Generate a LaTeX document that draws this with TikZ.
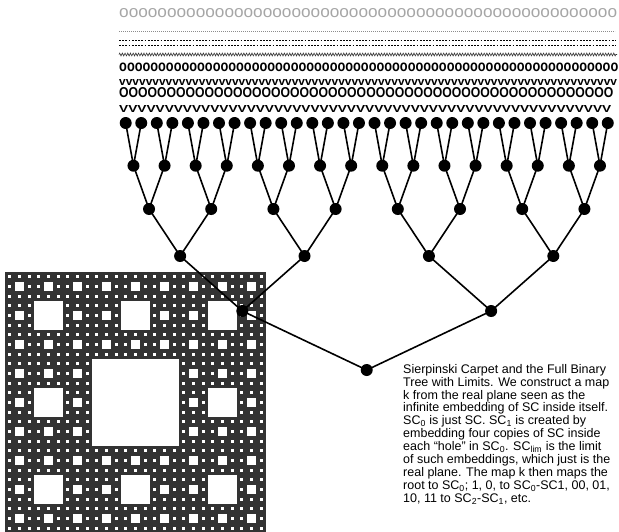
\documentclass[tikz,border=0pt]{standalone}
\usepackage{fontspec}
\setmainfont{Liberation Sans}
\usepackage{graphicx}
\usetikzlibrary{decorations.pathmorphing}

% a row of one glyph, repeated
\newcommand\glyphrow[2]{\foreach \i in {1,...,#1}{#2}}
% caption font, lines set solid
\newcommand\notefont{\fontsize{12.5}{12.9}\selectfont\lineskiplimit=-20pt\relax}
% holes of the carpet, in the unit square of the current scope
\newcommand\carpetholes[1]{%
  \fill[white] (1/3,1/3) rectangle (2/3,2/3);
  \ifnum#1>0
    \pgfmathtruncatemacro\nextdepth{#1-1}%
    \foreach \cx/\cy in {0/0,1/0,2/0,0/1,2/1,0/2,1/2,2/2}{%
      \begin{scope}[shift={(\cx/3,\cy/3)},scale=0.333333]
        \carpetholes{\nextdepth}
      \end{scope}}%
  \fi}

\begin{document}
\begin{tikzpicture}[x=1pt,y=-1pt,
  knot/.style={circle,fill=black,inner sep=0pt,minimum size=12pt},
  twig/.style={line width=1.6pt},
  glyphs/.style={anchor=west,inner sep=0pt}]
\useasboundingbox (0,0) rectangle (619,531);

% rows above the leaves
\node[glyphs,text=black!35] (row1) at (119,13.5) {\resizebox{498pt}{9pt}{\glyphrow{52}{o}}};
\draw[black!45,line width=0.5pt,dash pattern=on 0.8pt off 1.2pt] (119,31.7) -- (615,31.7);
\draw[line width=0.9pt,dash pattern=on 1.8pt off 1.4pt] (119,40) -- (616,40);
\draw[line width=0.9pt,dash pattern=on 1.8pt off 1.4pt] (119,45) -- (616,45);
\draw[black!80,line width=0.6pt,decorate,decoration={zigzag,segment length=2.7pt,amplitude=1.4pt}] (119,54.5) -- (617,54.5);
\node[glyphs] (row6) at (119,67.5) {\resizebox{499pt}{8.5pt}{\bfseries\glyphrow{64}{o}}};
\node[glyphs] (row7) at (119,82) {\resizebox{498pt}{6pt}{\bfseries\glyphrow{75}{v}}};
\node[glyphs] (row8) at (119,93) {\resizebox{494pt}{10pt}{\bfseries\glyphrow{52}{O}}};
\node[glyphs] (row9) at (119,108.5) {\resizebox{492pt}{7pt}{\bfseries\glyphrow{54}{V}}};

% Sierpinski carpet
\begin{scope}[shift={(5,272)},x=261pt,y=-261pt]
  \fill[black!80] (0,0) rectangle (1,1);
  \carpetholes{3}
\end{scope}

% full binary tree
\foreach \lev/\yy in {0/370,1/311,2/256,3/209,4/165.7,5/123}{
  \pgfmathtruncatemacro\cnt{2^\lev-1}
  \foreach \k in {0,...,\cnt}{
    \pgfmathsetmacro\xx{125.7+15.55*((\k+0.5)*2^(5-\lev)-0.5)}
    \node[knot] (t\lev-\k) at (\xx,\yy) {};
  }
}
\foreach \lev in {1,...,5}{
  \pgfmathtruncatemacro\up{\lev-1}
  \pgfmathtruncatemacro\cnt{2^\lev-1}
  \foreach \k in {0,...,\cnt}{
    \pgfmathtruncatemacro\mom{floor(\k/2)}
    \draw[twig] (t\up-\mom.center) -- (t\lev-\k.center);
  }
}

% caption
\node[anchor=north west,inner sep=0pt,align=left,font=\notefont] (note) at (403,364) {%
Sierpinski Carpet and the Full Binary\\
Tree with Limits. We construct a map\\
k from the real plane seen as the\\
infinite embedding of SC inside itself.\\
SC\textsubscript{0} is just SC. SC\textsubscript{1} is created by\\
embedding four copies of SC inside\\
each “hole” in SC\textsubscript{0}. SC\textsubscript{lim} is the limit\\
of such embeddings, which just is the\\
real plane. The map k then maps the\\
root to SC\textsubscript{0}; 1, 0, to SC\textsubscript{0}-SC1, 00, 01,\\
10, 11 to SC\textsubscript{2}-SC\textsubscript{1}, etc.};
\end{tikzpicture}
\end{document}
